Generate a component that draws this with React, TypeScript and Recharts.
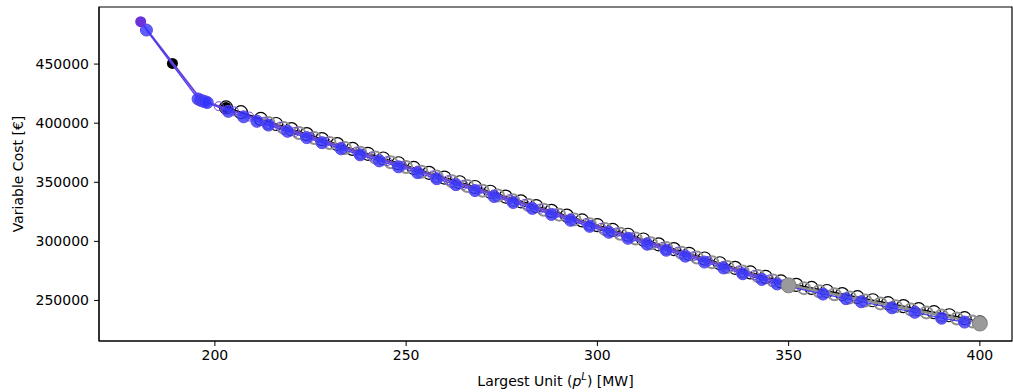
import { ScatterChart, Scatter, XAxis, YAxis, ReferenceArea, Label } from 'recharts';

// x / y values
const blackDotX = [188.9, 202.9];
const blackDotY = [450600, 413300];

const blackX = [202.9, 206.8, 212, 216, 220, 224, 228, 232, 236, 240, 244, 248, 252, 256, 260, 264, 268, 272, 276, 280, 284, 288, 292, 296, 300, 304, 308, 312, 316, 320, 324, 328, 332, 336, 340, 344, 348, 352, 356, 360, 364, 368, 372, 376, 380, 384, 388, 392, 396, 400];
const blackY = [413300, 409300, 403600, 399300, 395000, 390800, 386500, 382300, 378200, 374100, 370100, 366100, 362100, 358000, 354000, 350000, 346000, 342000, 337900, 333900, 329900, 325800, 321800, 317700, 313700, 309700, 305600, 301600, 297500, 293500, 289500, 285500, 281500, 277600, 273700, 269900, 266100, 263200, 260600, 258000, 255400, 252800, 250200, 247700, 245200, 242600, 240100, 237500, 235000, 231500];

const grayX = [214, 218, 222, 226, 230, 234, 238, 242, 246, 250, 254, 258, 262, 266, 270, 274, 278, 282, 286, 290, 294, 298, 302, 306, 310, 314, 318, 322, 326, 330, 334, 338, 342, 346, 350, 354, 358, 362, 366, 370, 374, 378, 382, 386, 390, 394, 398];
const grayY = [400200, 396000, 391700, 387400, 383200, 379000, 375000, 370900, 366900, 362900, 358900, 354800, 350800, 346800, 342800, 338800, 334700, 330700, 326700, 322600, 318600, 314500, 310500, 306500, 302400, 298400, 294300, 290300, 286300, 282300, 278400, 274500, 270600, 266800, 263000, 260400, 257800, 255200, 252600, 250000, 247500, 245000, 242400, 239900, 237300, 234800, 232300];

const grayEndX = [350, 400];
const grayEndY = [262800, 230500];

const blueX = [182.1, 195.6, 196.2, 196.8, 197.4, 198, 203.5, 207.5, 211, 214, 219, 224, 228, 233, 238, 243, 248, 253, 258, 263, 268, 273, 278, 283, 288, 293, 298, 303, 308, 313, 318, 323, 328, 333, 338, 343, 347, 359, 365, 369, 377, 383, 390, 396];
const blueY = [478800, 420500, 419500, 418800, 418200, 417500, 410000, 405400, 401600, 398400, 393100, 387800, 383500, 378300, 373200, 368100, 363100, 358100, 353000, 348000, 343000, 338000, 332900, 327900, 322800, 317800, 312700, 307700, 302600, 297600, 292500, 287500, 282500, 277500, 272600, 267800, 264000, 255400, 251500, 248900, 243800, 240000, 235000, 231700];

const purpleDotX = [180.6];
const purpleDotY = [485900];

const purpleX = [180.6, 182.1, 196.5, 201, 205, 209, 213, 217, 221, 225, 229, 233, 237, 241, 245, 249, 253, 257, 261, 265, 269, 273, 277, 281, 285, 289, 293, 297, 301, 305, 309, 313, 317, 321, 325, 329, 333, 337, 341, 345, 349];
const purpleY = [485900, 479500, 419400, 414400, 410000, 405600, 401300, 397000, 392700, 388500, 384200, 380100, 376000, 371900, 367900, 363900, 359900, 355800, 351800, 347800, 343800, 339800, 335700, 331700, 327700, 323600, 319600, 315500, 311500, 307500, 303400, 299400, 295300, 291300, 287300, 283300, 279300, 275400, 271500, 267800, 264000];

const xTicks = [200, 250, 300, 350, 400];
const yTicks = [250000, 300000, 350000, 400000, 450000];

const X_DOMAIN: [number, number] = [169.7, 408.4];
const Y_DOMAIN: [number, number] = [215700, 498300];

const zip = (xs: number[], ys: number[]) => xs.map((x, i) => ({ x, y: ys[i] }));

const FONT = 'DejaVu Sans, sans-serif';

const ring = (stroke: string, r: number, sw: number, skip: number[] = []) => (p: any) =>
  skip.includes(p.index) ? <g /> :
  <circle cx={p.cx} cy={p.cy} r={r} fill="none" stroke={stroke} strokeWidth={sw} />;

const dot = (fill: string, r: number, stroke = 'none', opacity = 1) => (p: any) =>
  <circle cx={p.cx} cy={p.cy} r={r} fill={fill} stroke={stroke} strokeWidth={1} fillOpacity={opacity} />;

export default function App() {
  return (
    <div style={{ position: 'absolute', left: 0, top: 0, background: '#fff', fontFamily: FONT }}>
      <ScatterChart width={1013} height={392} margin={{ top: 7, right: 1, bottom: 0, left: 0 }}>
        <XAxis
          type="number"
          dataKey="x"
          domain={X_DOMAIN}
          ticks={xTicks}
          allowDataOverflow
          height={51}
          tickSize={5}
          tickMargin={4}
          stroke="#000"
          tick={{ fill: '#000', fontSize: 14, fontFamily: FONT }}
        >
          <Label
            content={(props: any) => {
              const vb = props.viewBox;
              return (
                <text x={vb.x + vb.width / 2} y={386} textAnchor="middle" fontSize={14} fontFamily={FONT} fill="#000">
                  Largest Unit (<tspan fontStyle="italic">p</tspan><tspan fontStyle="italic" fontSize={10} dy={-6}>L</tspan><tspan dy={6}>) [MW]</tspan>
                </text>
              );
            }}
          />
        </XAxis>
        <YAxis
          type="number"
          dataKey="y"
          domain={Y_DOMAIN}
          ticks={yTicks}
          allowDataOverflow
          width={99}
          tickSize={5}
          tickMargin={5}
          stroke="#000"
          tick={{ fill: '#000', fontSize: 14, fontFamily: FONT }}
        >
          <Label
            content={() => (
              <text x={23} y={174} transform="rotate(-90 23 174)" textAnchor="middle" fontSize={14} fontFamily={FONT} fill="#000">
                Variable Cost [€]
              </text>
            )}
          />
        </YAxis>
        <ReferenceArea x1={X_DOMAIN[0]} x2={X_DOMAIN[1]} y1={Y_DOMAIN[0]} y2={Y_DOMAIN[1]} fill="none" stroke="#000" strokeWidth={1.2} fillOpacity={0} />
        <Scatter data={zip(blackX, blackY)} line={{ stroke: '#000', strokeWidth: 1.5 }} lineType="joint"
          shape={ring('#000', 6.5, 1.2)} isAnimationActive={false} />
        <Scatter data={zip(blackDotX, blackDotY)} shape={dot('#000', 5.5)} isAnimationActive={false} />
        <Scatter data={zip(grayX, grayY)} line={{ stroke: '#8c8c8c', strokeWidth: 2.5 }} lineType="joint"
          shape={ring('#909090', 6, 2)} isAnimationActive={false} />
        <Scatter data={zip(purpleX, purpleY)} line={{ stroke: '#6a3fd6', strokeWidth: 2 }} lineType="joint"
          shape={ring('#7048d8', 4.5, 1, [0, 1])} isAnimationActive={false} />
        <Scatter data={zip(blueX, blueY)} line={{ stroke: '#4a3ef0', strokeWidth: 1.2 }} lineType="joint"
          shape={dot('#3434ff', 6, '#5a48e8', 0.8)} isAnimationActive={false} />
        <Scatter data={zip(purpleDotX, purpleDotY)} shape={dot('#6a32d8', 5.5)} isAnimationActive={false} />
        <Scatter data={zip(grayEndX, grayEndY)} shape={dot('#9a9a9a', 7.5, '#808080')} isAnimationActive={false} />
      </ScatterChart>
    </div>
  );
}
